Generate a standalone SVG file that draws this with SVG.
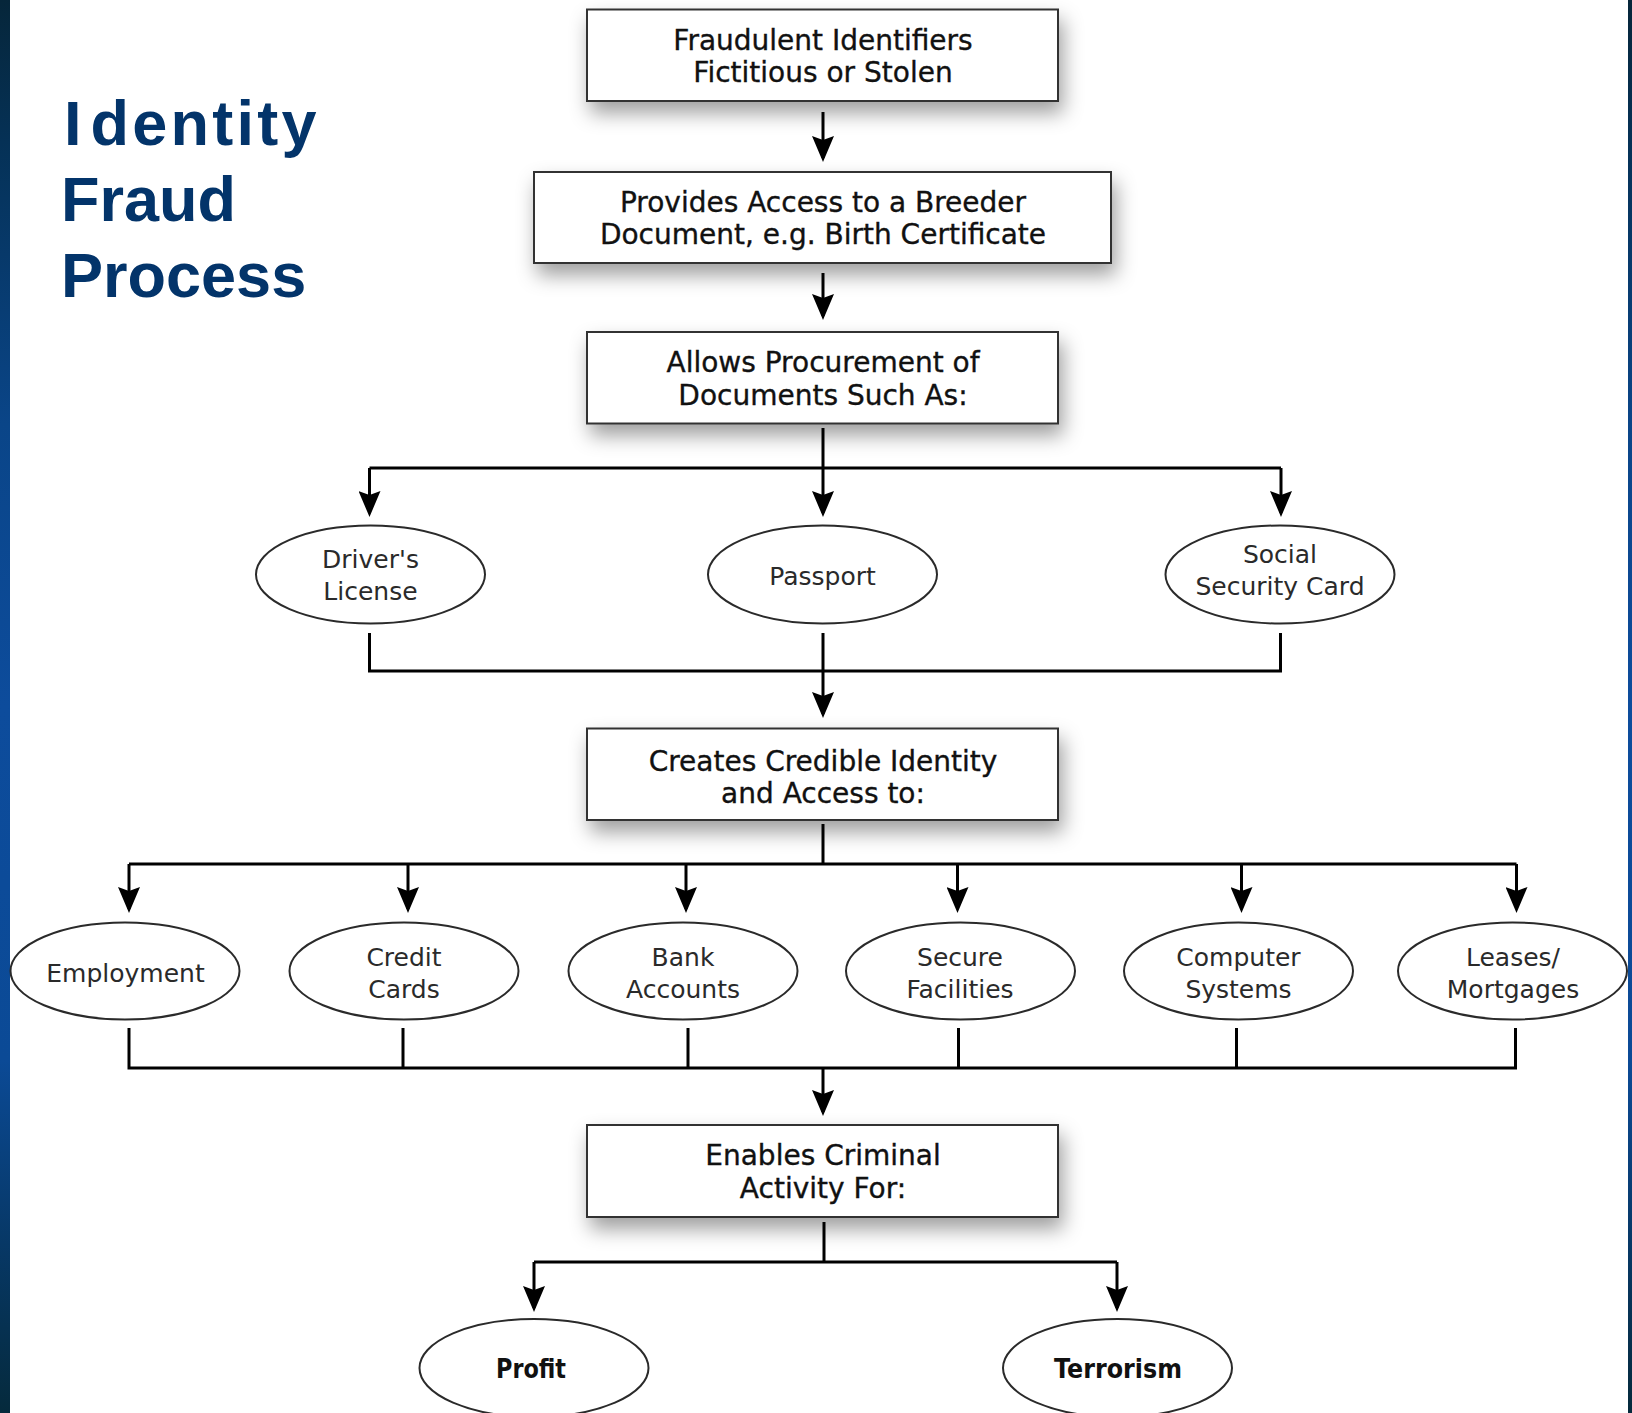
<svg xmlns="http://www.w3.org/2000/svg" width="1632" height="1413" viewBox="0 0 1632 1413">
<style>
.box{fill:#fff;stroke:#333;stroke-width:2;filter:url(#shadow)}
.ell{fill:#fff;stroke:#2a2a2a;stroke-width:2}
.bt{font-family:"DejaVu Sans","Liberation Sans",sans-serif;font-size:28px;fill:#111;stroke:#111;stroke-width:0.35;text-anchor:middle}
.et{font-family:"DejaVu Sans","Liberation Sans",sans-serif;font-size:25px;fill:#2a2a2a;text-anchor:middle}
.ft{font-family:"DejaVu Sans","Liberation Sans",sans-serif;font-size:27px;font-weight:bold;fill:#111;text-anchor:middle}
.title{font-family:"Liberation Sans",Arial,sans-serif;font-size:63px;font-weight:bold;fill:#03346a}
.ln{fill:none;stroke:#000;stroke-width:3}
.ar{fill:none;stroke:#000;stroke-width:3;marker-end:url(#arr)}
</style>
<defs>
<filter id="shadow" x="-10%" y="-20%" width="125%" height="170%">
<feDropShadow dx="4" dy="11" stdDeviation="10" flood-color="#000" flood-opacity="0.38"/>
</filter>
<marker id="arr" markerUnits="userSpaceOnUse" markerWidth="26" markerHeight="22" viewBox="0 0 26 22" refX="22" refY="11" orient="auto">
<path d="M0,0 L26,11 L0,22 L4,11 Z" fill="#000"/>
</marker>
<linearGradient id="bar" x1="0" y1="0" x2="0" y2="1">
<stop offset="0" stop-color="#06263a"/>
<stop offset="0.1" stop-color="#053156"/>
<stop offset="0.3" stop-color="#0a4588"/>
<stop offset="0.5" stop-color="#0d4c9c"/>
<stop offset="0.75" stop-color="#0b4a96"/>
<stop offset="0.88" stop-color="#073866"/>
<stop offset="1" stop-color="#052a3c"/>
</linearGradient>
</defs>
<rect x="0" y="0" width="1632" height="1413" fill="#fff"/>
<rect x="0" y="0" width="10" height="1413" fill="url(#bar)"/>
<rect x="1628" y="0" width="4" height="1413" fill="url(#bar)"/>

<g id="title">
<text class="title" x="64" y="145">I<tspan dx="9" textLength="226" lengthAdjust="spacing">dentity</tspan></text>
<text class="title" x="61" y="221">Fraud</text>
<text class="title" x="61" y="297">Process</text>
</g>

<g id="connectors">
<path class="ar" d="M823,112 V158"/>
<path class="ar" d="M823,273 V316"/>
<path class="ln" d="M823,428 V468 M369.5,468 H1281"/>
<path class="ar" d="M369.5,468 V513"/>
<path class="ar" d="M823,468 V513"/>
<path class="ar" d="M1281,468 V513"/>
<path class="ln" d="M369.5,633 V671 H1280.5 V633"/>
<path class="ar" d="M823,633 V714"/>
<path class="ln" d="M823,824 V864 M129,864 H1516.5"/>
<path class="ar" d="M129,864 V909"/>
<path class="ar" d="M408,864 V909"/>
<path class="ar" d="M686,864 V909"/>
<path class="ar" d="M957.5,864 V909"/>
<path class="ar" d="M1241.5,864 V909"/>
<path class="ar" d="M1516.5,864 V909"/>
<path class="ln" d="M129,1028 V1068 H1515.5 V1028 M403,1028 V1068 M688,1028 V1068 M958.5,1028 V1068 M1236.5,1028 V1068"/>
<path class="ar" d="M823,1068 V1112"/>
<path class="ln" d="M824,1222 V1262 M534,1262 H1117"/>
<path class="ar" d="M534,1262 V1308"/>
<path class="ar" d="M1117,1262 V1308"/>
</g>

<g id="box-fraudulent">
<rect class="box" x="587" y="9.5" width="471" height="91.5"/>
<text class="bt" x="823" y="49.5">Fraudulent Identifiers</text>
<text class="bt" x="823" y="81.5">Fictitious or Stolen</text>
</g>
<g id="box-breeder">
<rect class="box" x="534" y="172" width="577" height="91"/>
<text class="bt" x="823" y="211.5">Provides Access to a Breeder</text>
<text class="bt" x="823" y="244">Document, e.g. Birth Certificate</text>
</g>
<g id="box-procurement">
<rect class="box" x="587" y="332" width="471" height="91.5"/>
<text class="bt" x="823" y="372">Allows Procurement of</text>
<text class="bt" x="823" y="404.5">Documents Such As:</text>
</g>

<g id="ell-drivers">
<ellipse class="ell" cx="370.5" cy="574.5" rx="114.5" ry="49"/>
<text class="et" x="370.5" y="567.5">Driver's</text>
<text class="et" x="370.5" y="600">License</text>
</g>
<g id="ell-passport">
<ellipse class="ell" cx="822.5" cy="574.5" rx="114.5" ry="49"/>
<text class="et" x="822.5" y="584.5">Passport</text>
</g>
<g id="ell-social">
<ellipse class="ell" cx="1280" cy="574.5" rx="114.5" ry="49"/>
<text class="et" x="1280" y="562.5">Social</text>
<text class="et" x="1280" y="594.5">Security Card</text>
</g>

<g id="box-credible">
<rect class="box" x="587" y="728.5" width="471" height="91.5"/>
<text class="bt" x="823" y="770.5">Creates Credible Identity</text>
<text class="bt" x="823" y="802.5">and Access to:</text>
</g>

<g id="ell-employment">
<ellipse class="ell" cx="125" cy="971" rx="114.5" ry="48.5"/>
<text class="et" x="125.5" y="982">Employment</text>
</g>
<g id="ell-credit">
<ellipse class="ell" cx="404" cy="971" rx="114.5" ry="48.5"/>
<text class="et" x="404" y="965.5">Credit</text>
<text class="et" x="404" y="997.5">Cards</text>
</g>
<g id="ell-bank">
<ellipse class="ell" cx="683" cy="971" rx="114.5" ry="48.5"/>
<text class="et" x="683" y="965.5">Bank</text>
<text class="et" x="683" y="997.5">Accounts</text>
</g>
<g id="ell-secure">
<ellipse class="ell" cx="960.5" cy="971" rx="114.5" ry="48.5"/>
<text class="et" x="960" y="965.5">Secure</text>
<text class="et" x="960" y="997.5">Facilities</text>
</g>
<g id="ell-computer">
<ellipse class="ell" cx="1238.5" cy="971" rx="114.5" ry="48.5"/>
<text class="et" x="1238.5" y="965.5">Computer</text>
<text class="et" x="1238.5" y="997.5">Systems</text>
</g>
<g id="ell-leases">
<ellipse class="ell" cx="1512.5" cy="971" rx="114.5" ry="48.5"/>
<text class="et" x="1513" y="965.5">Leases/</text>
<text class="et" x="1513" y="997.5">Mortgages</text>
</g>

<g id="box-criminal">
<rect class="box" x="587" y="1125" width="471" height="92"/>
<text class="bt" x="823" y="1165">Enables Criminal</text>
<text class="bt" x="823" y="1197.5">Activity For:</text>
</g>

<g id="ell-profit">
<ellipse class="ell" cx="534" cy="1368" rx="114.5" ry="49"/>
<text class="ft" x="531" y="1377.5" textLength="70" lengthAdjust="spacingAndGlyphs">Profit</text>
</g>
<g id="ell-terrorism">
<ellipse class="ell" cx="1117.5" cy="1368" rx="114.5" ry="49"/>
<text class="ft" x="1118" y="1377.5" textLength="128" lengthAdjust="spacingAndGlyphs">Terrorism</text>
</g>
</svg>
